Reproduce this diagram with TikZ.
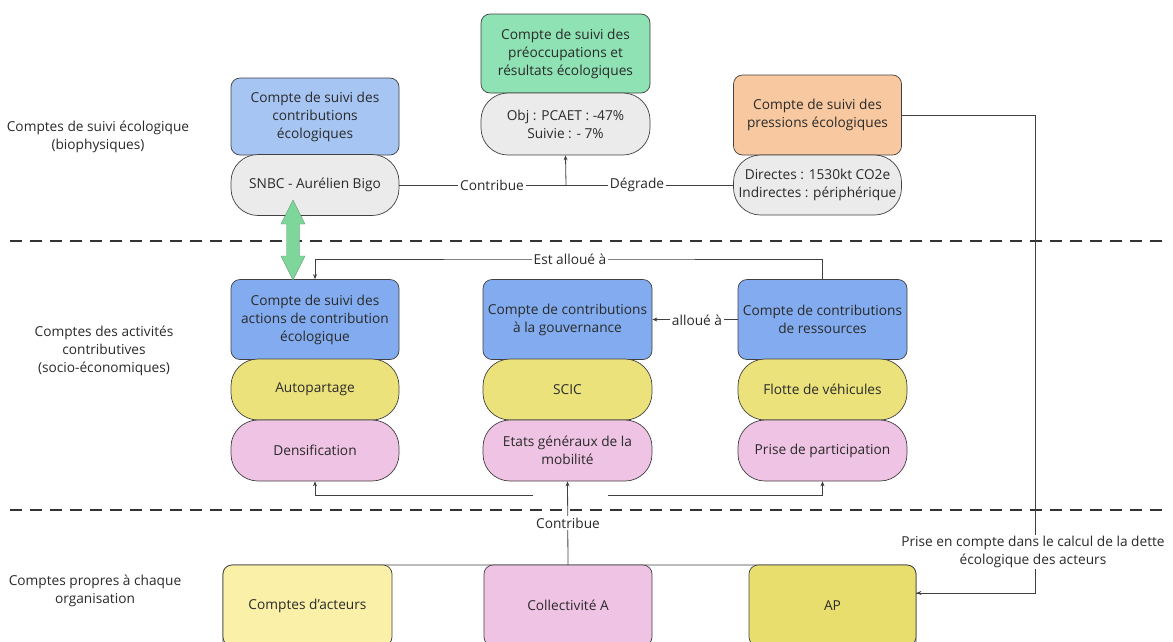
\documentclass[tikz,border=0pt]{standalone}
\usepackage{fontspec}
\setmainfont{Open Sans}
\usetikzlibrary{arrows.meta,calc}
\definecolor{bluelt}{HTML}{A6C5F3}
\definecolor{bluemd}{HTML}{82ACEF}
\definecolor{greenbx}{HTML}{8EE2B3}
\definecolor{orangebx}{HTML}{F8C9A0}
\definecolor{graybx}{HTML}{EBEBEB}
\definecolor{yellowbx}{HTML}{ECE27C}
\definecolor{pinkbx}{HTML}{EFC3E3}
\definecolor{paleyel}{HTML}{FBF0A8}
\definecolor{apyel}{HTML}{E8DE6E}
\definecolor{greenarr}{HTML}{7ED69A}
\definecolor{linec}{HTML}{404040}
\definecolor{txt}{HTML}{2A2A2A}
\tikzset{
  every node/.style={font=\fontsize{13.7}{18}\selectfont, text=txt},
  boxbase/.style={draw=linec, line width=0.7pt, align=center, minimum width=168pt, inner sep=1.5pt},
  sqbox/.style={boxbase, rounded corners=9pt, minimum height=80pt},
  pill/.style={boxbase, rounded corners=27pt, minimum height=61pt},
  lbl/.style={fill=white, inner sep=2pt},
  conn/.style={draw=linec, line width=0.8pt},
  arr/.style={conn, -{Stealth[length=5pt,width=4pt]}},
  sep/.style={draw=black!80, line width=1.8pt, dash pattern=on 12pt off 8pt},
  sidelbl/.style={align=center}
}
\begin{document}
\begin{tikzpicture}[x=1pt,y=-1pt]
\useasboundingbox (0,0) rectangle (1173,641);
\clip (0,0) rectangle (1173,641);

% separators
\draw[sep] (10,241) -- (1163,241);
\draw[sep] (10,510) -- (1163,510);

% side labels
\node[sidelbl] (l1) at (98,137) {Comptes de suivi écologique\\(biophysiques)};
\node[sidelbl] (l2) at (104,351) {Comptes des activités\\contributives\\(socio-économiques)};
\node[sidelbl] (l3) at (95,591) {Comptes propres à chaque\\organisation};

% top row
\node[sqbox, fill=bluelt, minimum height=77pt] (c1) at (315,116.5) {Compte de suivi des\\contributions\\écologiques};
\node[pill, fill=graybx] (s1) at (315,185) {SNBC - Aurélien Bigo};
\node[sqbox, fill=greenbx, minimum height=79pt, minimum width=169pt] (g) at (565.5,53.5) {Compte de suivi des\\préoccupations et\\résultats écologiques};
\node[pill, fill=graybx, minimum height=62pt, minimum width=169pt] (s2) at (565.5,124) {Obj : PCAET : -47\%\\Suivie : - 7\%};
\node[sqbox, fill=orangebx] (o) at (817.5,115) {Compte de suivi des\\pressions écologiques};
\node[pill, fill=graybx, minimum height=60pt, inner sep=0pt] (s3) at (817.5,185) {Directes : 1530kt CO2e\\Indirectes : périphérique};

% middle row
\node[sqbox, fill=bluemd] (b1) at (315,319.5) {Compte de suivi des\\actions de contribution\\écologique};
\node[pill, fill=yellowbx] (y1) at (315,389.5) {Autopartage};
\node[pill, fill=pinkbx] (p1) at (315,450.5) {Densification};
\node[sqbox, fill=bluemd, minimum width=169pt] (b2) at (567.5,319.5) {Compte de contributions\\à la gouvernance};
\node[pill, fill=yellowbx, minimum width=169pt] (y2) at (567.5,389.5) {SCIC};
\node[pill, fill=pinkbx, minimum width=169pt] (p2) at (567.5,450.5) {Etats généraux de la\\mobilité};
\node[sqbox, fill=bluemd, minimum width=169pt] (b3) at (822.5,319.5) {Compte de contributions\\de ressources};
\node[pill, fill=yellowbx, minimum width=169pt] (y3) at (822.5,389.5) {Flotte de véhicules};
\node[pill, fill=pinkbx, minimum width=169pt] (p3) at (822.5,450.5) {Prise de participation};

% pressions -> AP (line and label first, boxes drawn on top)
\coordinate (r2) at (1035,593);
\coordinate (apE) at (916,593);
\draw[conn] (o.east) -| (r2) -- (apE);
\node[lbl, inner sep=1pt, align=center] (lp) at (1033,552) {Prise en compte dans le calcul de la dette\\écologique des acteurs};

% bottom row
\draw[draw=linec, line width=0.8pt, rounded corners=9pt] (223,565) rectangle (916,690);
\node[sqbox, fill=paleyel, minimum width=169pt, minimum height=81pt] (a1) at (307.5,605.5) {Comptes d'acteurs};
\node[sqbox, fill=pinkbx, minimum width=168pt, minimum height=81pt] (a2) at (568,605.5) {Collectivité A};
\node[sqbox, fill=apyel, minimum width=167pt, minimum height=81pt] (a3) at (832.5,605.5) {AP};
\draw[arr] (r2) -- (a3.east |- r2);

% green double arrow between s1 and b1
\fill[greenarr, draw=greenarr!70!black, line width=0.4pt]
  (293,200) -- (305,224) -- (299.5,224) -- (299.5,256) -- (305,256) -- (293,280)
  -- (281,256) -- (286.5,256) -- (286.5,224) -- (281,224) -- cycle;

% top connectors
\coordinate (jt) at (566,185);
\draw[conn] (s1.east) -- (jt);
\draw[conn] (s3.west) -- (jt);
\draw[arr] (jt) -- (s2.south);
\node[lbl] (lc) at (492,185) {Contribue};
\node[lbl] (ld) at (637,185) {Dégrade};

% Est alloue a
\coordinate (ea) at (570,259);
\draw[arr] (b3.north) |- (ea) -| (b1.north);
\node[lbl] (le) at (570,259) {Est alloué à};

% alloue a
\draw[arr] (b3.west) -- (b2.east);
\node[lbl] (la) at (697,320) {alloué à};

% bottom contributions
\coordinate (cb) at (568,565);
\draw[arr] (cb) -- (p2.south);
\node[lbl] (lcb) at (568,523) {Contribue};
\coordinate (hl) at (533,495);
\coordinate (hr) at (608,495);
\draw[arr] (hl) -| (p1.south);
\draw[arr] (hr) -| (p3.south);
\end{tikzpicture}
\end{document}
